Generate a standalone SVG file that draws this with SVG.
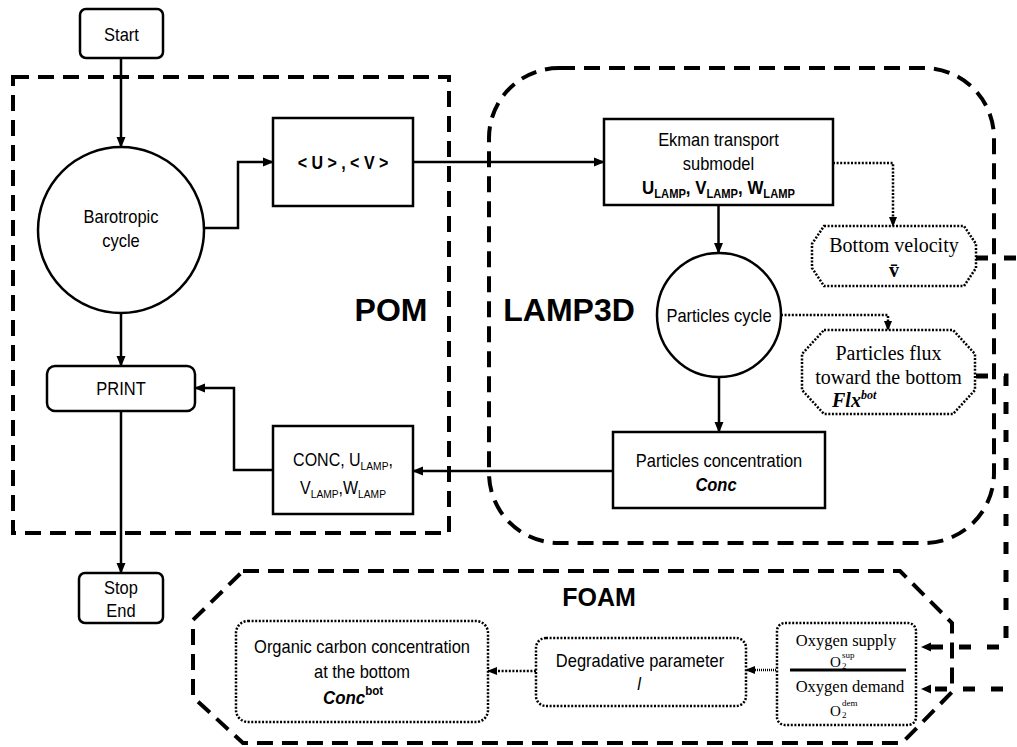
<svg xmlns="http://www.w3.org/2000/svg" width="1017" height="747" viewBox="0 0 1017 747">
<style>
.sans{font-family:"Liberation Sans",Arial,sans-serif;fill:#000}
.serif{font-family:"Liberation Serif","Times New Roman",serif;fill:#000}
.t{font-size:18.5px;text-anchor:middle}
.st{font-size:20px;text-anchor:middle}
.node{fill:#fff;stroke:#000;stroke-width:2.5}
.dotn{fill:#fff;stroke:#000;stroke-width:2.5;stroke-dasharray:2 1.6}
.region{fill:none;stroke:#000;stroke-width:4;stroke-dasharray:16 9}
.solid{fill:none;stroke:#000;stroke-width:2.5}
.dot{fill:none;stroke:#000;stroke-width:2.5;stroke-dasharray:2 1.6}
.fine{fill:none;stroke:#000;stroke-width:2.5;stroke-dasharray:1 1}
.thick{fill:none;stroke:#000;stroke-width:5;stroke-dasharray:12 16}
.big{font-size:32px;font-weight:bold;text-anchor:middle}
</style>
<defs>
<marker id="a" markerWidth="11" markerHeight="10" refX="10" refY="5" orient="auto" markerUnits="userSpaceOnUse"><path d="M0,0.5 L11,5 L0,9.5 z" fill="#000"/></marker>
<marker id="d" markerWidth="10" markerHeight="10" refX="9" refY="5" orient="auto" markerUnits="userSpaceOnUse"><path d="M0,1 L10,5 L0,9 z" fill="#000"/></marker>
<marker id="k" markerWidth="10" markerHeight="10" refX="0" refY="5" orient="auto" markerUnits="userSpaceOnUse"><path d="M0,0.5 L10,5 L0,9.5 z" fill="#000"/></marker>
</defs>

<g id="regions">
<rect x="13" y="77" width="436" height="456" class="region"/>
<text x="391" y="321" class="sans big">POM</text>
<rect x="489" y="68" width="505" height="475" rx="70" class="region"/>
<text x="569" y="321" class="sans big">LAMP3D</text>
<polygon points="243,571 900,571 952,623 952,692 902,743 243,743 193,697 193,620" class="region"/>
<text x="599" y="606" class="sans" font-size="25" font-weight="bold" text-anchor="middle">FOAM</text>
</g>

<g id="connectors">
<path d="M121,58 V147" class="solid" marker-end="url(#a)"/>
<path d="M204,228 H238 V162 H273" class="solid" marker-end="url(#a)"/>
<path d="M413,162 H604" class="solid" marker-end="url(#a)"/>
<path d="M833,163 H893 V226" class="dot" marker-end="url(#d)"/>
<path d="M718.5,205 V253" class="solid" marker-end="url(#a)"/>
<path d="M781,315 H888 V330" class="dot" marker-end="url(#d)"/>
<path d="M719,377 V432" class="solid" marker-end="url(#a)"/>
<path d="M613,471 H413" class="solid" marker-end="url(#a)"/>
<path d="M273,470 H234 V388 H195" class="solid" marker-end="url(#a)"/>
<path d="M121,313 V366" class="solid" marker-end="url(#a)"/>
<path d="M121,411 V573" class="solid" marker-end="url(#a)"/>
<path d="M976,376 H1006 V647 H931" class="thick" marker-end="url(#k)"/>
<path d="M976,258 H1040 V689 H931" class="thick" marker-end="url(#k)"/>
<path d="M790,670 H746" class="fine" marker-end="url(#d)"/>
<path d="M536,671 H488" class="dot" marker-end="url(#d)"/>
</g>

<g id="start">
<rect x="80" y="9" width="83" height="49" rx="6" class="node"/>
<text transform="translate(121.5 41) scale(.89 1)" class="sans t">Start</text>
</g>

<g id="barotropic">
<circle cx="121" cy="230" r="83" class="node"/>
<text transform="translate(121 223) scale(.89 1)" class="sans t">Barotropic</text>
<text transform="translate(121 247) scale(.89 1)" class="sans t">cycle</text>
</g>

<g id="uv">
<rect x="273" y="118" width="140" height="88" class="node"/>
<text transform="translate(343 169) scale(.89 1)" class="sans" font-size="18" font-weight="bold" text-anchor="middle">&lt; U &gt; , &lt; V &gt;</text>
</g>

<g id="ekman">
<rect x="604" y="119" width="229" height="86" class="node"/>
<text transform="translate(718.5 146) scale(.89 1)" class="sans t">Ekman transport</text>
<text transform="translate(718.5 170) scale(.89 1)" class="sans t">submodel</text>
<text transform="translate(718.5 194) scale(.89 1)" class="sans" font-size="19" font-weight="bold" text-anchor="middle">U<tspan font-size="12.5" dy="4">LAMP</tspan><tspan dy="-4">, V</tspan><tspan font-size="12.5" dy="4">LAMP</tspan><tspan dy="-4">, W</tspan><tspan font-size="12.5" dy="4">LAMP</tspan></text>
</g>

<g id="bottom-velocity">
<polygon points="824,226 964,226 976,244 976,268 964,286 824,286 812,268 812,244" class="dotn"/>
<text x="894" y="252" class="serif st">Bottom velocity</text>
<text x="894" y="277" class="serif st" font-weight="bold">v̄</text>
</g>

<g id="particles-cycle">
<circle cx="719" cy="315" r="62" class="node"/>
<text transform="translate(719 322) scale(.89 1)" class="sans t">Particles cycle</text>
</g>

<g id="particles-flux">
<polygon points="824,330 953,330 975,354 975,390 953,414 824,414 802,390 802,354" class="dotn"/>
<text x="888.5" y="360" class="serif st">Particles flux</text>
<text x="888.5" y="384" class="serif st">toward the bottom</text>
<text x="832" y="407" class="serif" font-size="20" font-weight="bold" font-style="italic">Flx<tspan font-size="12" dy="-8">bot</tspan></text>
</g>

<g id="particles-concentration">
<rect x="613" y="432" width="212" height="76" class="node"/>
<text transform="translate(719 467) scale(.89 1)" class="sans t">Particles concentration</text>
<text transform="translate(716 491) scale(.89 1)" class="sans t" font-weight="bold" font-style="italic">Conc</text>
</g>

<g id="conc-out">
<rect x="273" y="426" width="140" height="88" class="node"/>
<text transform="translate(343 466) scale(.89 1)" class="sans" font-size="18" text-anchor="middle">CONC, U<tspan font-size="11.5" dy="4">LAMP</tspan><tspan dy="-4">,</tspan></text>
<text transform="translate(343 494) scale(.89 1)" class="sans" font-size="18" text-anchor="middle">V<tspan font-size="11.5" dy="4">LAMP</tspan><tspan dy="-4">,W</tspan><tspan font-size="11.5" dy="4">LAMP</tspan></text>
</g>

<g id="print">
<rect x="47" y="366" width="148" height="45" rx="8" class="node"/>
<text transform="translate(121 395) scale(.89 1)" class="sans t">PRINT</text>
</g>

<g id="stop">
<rect x="79" y="573" width="84" height="50" rx="6" class="node"/>
<text transform="translate(121 594) scale(.89 1)" class="sans t">Stop</text>
<text transform="translate(121 617) scale(.89 1)" class="sans t">End</text>
</g>

<g id="organic-carbon">
<rect x="236" y="621" width="252" height="101" rx="12" class="dotn"/>
<text transform="translate(362 653) scale(.89 1)" class="sans t">Organic carbon concentration</text>
<text transform="translate(362 678) scale(.89 1)" class="sans t">at the bottom</text>
<text transform="translate(323 704) scale(.89 1)" class="sans" font-size="19" font-weight="bold" font-style="italic">Conc<tspan font-size="13" font-style="normal" dy="-9">bot</tspan></text>
</g>

<g id="degradative">
<rect x="536" y="638" width="210" height="68" rx="10" class="dotn"/>
<text transform="translate(640 667) scale(.89 1)" class="sans t">Degradative parameter</text>
<text transform="translate(639 690) scale(.89 1)" class="sans t" font-style="italic">l</text>
</g>

<g id="oxygen">
<rect x="777" y="623" width="139" height="102" rx="8" class="dotn"/>
<line x1="790" y1="670" x2="906" y2="670" stroke="#000" stroke-width="3"/>
<text x="846" y="646" class="serif" font-size="16.5" text-anchor="middle">Oxygen supply</text>
<text x="830" y="667" class="serif" font-size="15">O</text>
<text x="842" y="658" class="serif" font-size="9">sup</text>
<text x="842" y="669" class="serif" font-size="9">2</text>
<text x="850" y="692" class="serif" font-size="16.5" text-anchor="middle">Oxygen demand</text>
<text x="830" y="716" class="serif" font-size="15">O</text>
<text x="842" y="706" class="serif" font-size="9">dem</text>
<text x="842" y="718" class="serif" font-size="9">2</text>
</g>
</svg>
